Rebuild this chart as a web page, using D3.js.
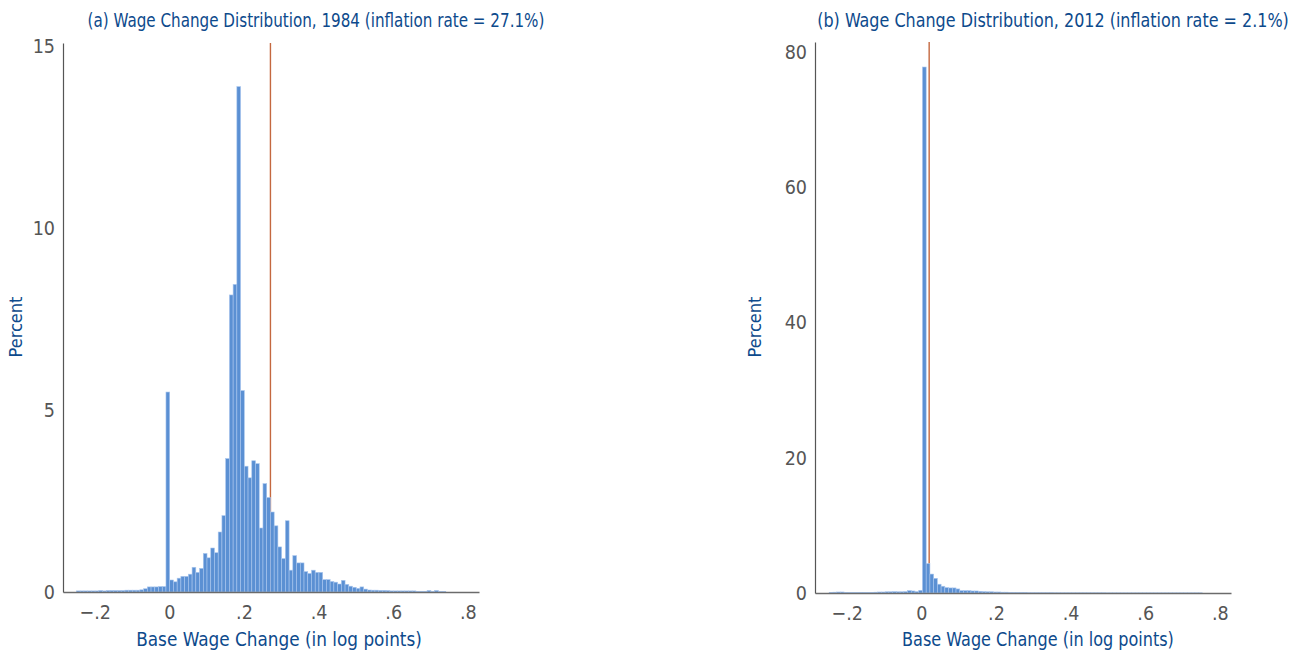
<!DOCTYPE html>
<html>
<head>
<meta charset="utf-8">
<script src="https://cdn.jsdelivr.net/npm/d3@7"></script>
<style>
  body { margin: 0; background: #fff; }
  svg { display: block; }
</style>
</head>
<body>
<svg id="chart" width="1304" height="651"></svg>
<script>
// histogram bins are 0.01 log points wide
const binWidth = 0.01;

// 1984: first bin lower edge and percent per bin
const binStart1984 = -0.249;
const pct1984 = [
  0.03, 0.03, 0.03, 0.03, 0.03, 0.03, 0.04, 0.03, 0.04, 0.04, 0.04, 0.04, 0.04, 0.05, 0.05, 0.05, 0.05,
  0.06, 0.09, 0.14, 0.14, 0.14, 0.15, 0.15,
  5.5, 0.33, 0.28, 0.38, 0.43, 0.43, 0.49, 0.68, 0.54, 0.65, 1.06, 0.94, 1.21, 1.08, 1.65, 2.10, 3.67,
  8.17, 8.46, 13.9, 5.54,
  3.46, 3.14, 3.61, 3.53, 1.76, 2.98, 2.60, 2.20, 1.82, 1.24, 0.92, 1.96, 0.60, 1.00, 0.80, 0.80,
  0.56, 0.51, 0.60, 0.54, 0.54, 0.34, 0.34,
  0.29, 0.27, 0.22, 0.32, 0.21, 0.16, 0.13, 0.10, 0.14, 0.08, 0.055,
  0.05, 0.05, 0.045, 0.045, 0.04, 0.03, 0.03, 0.03, 0.03, 0.03, 0.03, 0.03, 0.02, 0.02, 0.02,
  0.04, 0.015, 0.04, 0.01, 0.01
];

// 2012
const binStart2012 = -0.247;
const pct2012 = [
  0.10, 0.12, 0.15, 0.15, 0.10, 0.08, 0.08, 0.08, 0.10, 0.10, 0.10, 0.10, 0.12, 0.15, 0.15,
  0.18, 0.18, 0.20, 0.18, 0.18, 0.20, 0.35, 0.30, 0.20, 0.40,
  77.8, 4.35, 2.8, 2.17, 1.3, 1.0, 0.8, 0.75, 0.75, 0.6, 0.35, 0.35, 0.35, 0.3, 0.3, 0.25,
  0.2, 0.18, 0.18, 0.15, 0.15, 0.12, 0.12,
  0.06, 0.05, 0.05, 0.05, 0.05, 0.04, 0.04, 0.04, 0.04, 0.04, 0.04, 0.04, 0.03, 0.03, 0.03,
  0.03, 0.03, 0.03, 0.03, 0.03, 0.03, 0.03, 0.03, 0.03, 0.03, 0.03, 0.02, 0.02, 0.02, 0.02,
  0.02, 0.02, 0.02, 0.02, 0.02, 0.02, 0.02, 0.02, 0.02, 0.02, 0.02, 0.02, 0.02, 0.02, 0.02,
  0.02, 0.02, 0.02, 0.02, 0.02, 0.02, 0.02
];

const xTicks = [-0.2, 0, 0.2, 0.4, 0.6, 0.8];
const yTicks1984 = [0, 5, 10, 15];
const yTicks2012 = [0, 20, 40, 60, 80];

const titles = [
  '(a) Wage Change Distribution, 1984 (inflation rate = 27.1%)',
  '(b) Wage Change Distribution, 2012 (inflation rate = 2.1%)'
];
const inflation = [0.271, 0.021];
const xLabel = 'Base Wage Change (in log points)';
const yLabel = 'Percent';

const BLUE_TEXT = '#0d4a8c';
const TICK_TEXT = '#555';
const FONT = "'Liberation Sans Narrow', 'DejaVu Sans Condensed', 'Open Sans', sans-serif";

const svg = d3.select('#chart');

const panels = [
  { title: titles[0], titleX: 316, titleLen: 457, values: pct1984, start: binStart1984,
    yTicks: yTicks1984, yMax: 15.1, left: 63, right: 479, top: 43, bottom: 592,
    line: inflation[0], yLabelX: 17, xLabelX: 279, xLabelLen: 286 },
  { title: titles[1], titleX: 1053, titleLen: 472, values: pct2012, start: binStart2012,
    yTicks: yTicks2012, yMax: 81.5, left: 815, right: 1231, top: 42, bottom: 593,
    line: inflation[1], yLabelX: 756, xLabelX: 1038, xLabelLen: 272 }
];

function fmtX(d) {
  if (d === 0) return '0';
  const s = d3.format('.1f')(Math.abs(d)).replace(/^0/, '');
  return (d < 0 ? '\u2212' : '') + s;
}

// squeeze a centred text horizontally so it takes the given width
function fitText(g, str, cx, y, width, size) {
  const t = g.append('text')
    .attr('text-anchor', 'middle')
    .attr('fill', BLUE_TEXT)
    .style('font-family', FONT)
    .style('font-size', size + 'px')
    .text(str);
  const natural = t.node().getComputedTextLength();
  const k = natural > 0 ? width / natural : 1;
  t.attr('transform', `translate(${cx},${y}) scale(${k},1)`);
  return t;
}

panels.forEach(p => {
  const x = d3.scaleLinear().domain([-0.285, 0.83]).range([p.left, p.right]);
  const y = d3.scaleLinear().domain([0, p.yMax]).range([p.bottom, p.top]);
  const g = svg.append('g');

  const bins = p.values.map((v, i) => ({ x0: p.start + i * binWidth, value: v }));

  // inflation line sits behind the bars
  g.append('line')
    .attr('x1', x(p.line)).attr('x2', x(p.line))
    .attr('y1', p.top).attr('y2', p.bottom)
    .attr('stroke', '#c4683f')
    .attr('stroke-width', 1.4);

  g.selectAll('rect.bar')
    .data(bins)
    .enter()
    .append('rect')
    .attr('class', 'bar')
    .attr('x', d => x(d.x0))
    .attr('width', d => x(d.x0 + binWidth) - x(d.x0))
    .attr('y', d => y(d.value))
    .attr('height', d => p.bottom - y(d.value))
    .attr('fill', '#5b90d3')
    .attr('stroke', '#a9c6ee')
    .attr('stroke-width', 0.6);

  // x axis
  const xAxis = g.append('g')
    .attr('transform', `translate(0,${p.bottom})`)
    .call(d3.axisBottom(x).tickValues(xTicks).tickFormat(fmtX).tickSize(0).tickPadding(13));
  xAxis.select('.domain').attr('stroke', '#6b6b6b').attr('stroke-width', 1.5);
  xAxis.selectAll('text')
    .attr('fill', TICK_TEXT)
    .style('font-family', FONT)
    .style('font-size', '19.5px');

  // y axis
  const yAxis = g.append('g')
    .attr('transform', `translate(${p.left},0)`)
    .call(d3.axisLeft(y).tickValues(p.yTicks).tickSize(0).tickPadding(8));
  yAxis.select('.domain').attr('stroke', '#555').attr('stroke-width', 1.2);
  yAxis.selectAll('text')
    .attr('fill', TICK_TEXT)
    .style('font-family', FONT)
    .style('font-size', '19.5px');

  // titles and axis labels
  fitText(g, p.title, p.titleX, 27, p.titleLen, 19.5);
  fitText(g, xLabel, p.xLabelX, 646, p.xLabelLen, 19.5);

  g.append('text')
    .attr('transform', `translate(${p.yLabelX + 5},327) rotate(-90)`)
    .attr('text-anchor', 'middle')
    .attr('fill', BLUE_TEXT)
    .style('font-family', FONT)
    .style('font-size', '18px')
    .text(yLabel);
});
</script>
</body>
</html>
